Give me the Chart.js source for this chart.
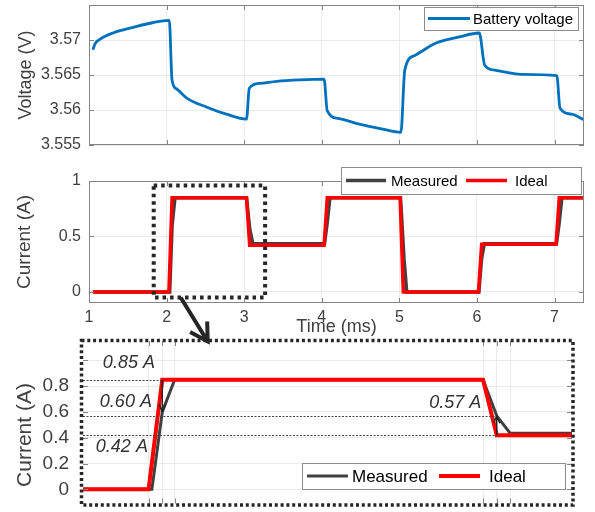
<!DOCTYPE html>
<html>
<head>
<meta charset="utf-8">
<script src="https://cdn.jsdelivr.net/npm/chart.js@4.4.1/dist/chart.umd.min.js"></script>
<style>
  html, body { margin: 0; padding: 0; background: #fff; }
  #wrap { position: relative; width: 595px; height: 512px; }
  #wrap canvas { position: absolute; left: 0; top: 0; }
</style>
</head>
<body>
<div id="wrap">
  <canvas id="cv" width="595" height="512"></canvas>
  <canvas id="ci" width="595" height="512"></canvas>
  <canvas id="cz" width="595" height="512"></canvas>
</div>
<script>
'use strict';

/* ---------- data ---------- */
const voltTime  = [1.05, 1.08, 1.14, 1.31, 1.57, 1.83, 2.035, 2.07, 2.13, 2.26, 2.52, 2.77, 3.03,
                   3.066, 3.20, 3.42, 3.72, 4.03, 4.07, 4.21, 4.51, 4.77, 5.02, 5.07, 5.20, 5.46,
                   5.76, 6.03, 6.10, 6.23, 6.57, 7.03, 7.07, 7.22, 7.38];
const voltValue = [3.5686, 3.5695, 3.5701, 3.5710, 3.5718, 3.5725, 3.5728, 3.5643, 3.5630, 3.5617,
                   3.5604, 3.5594, 3.5587, 3.5631, 3.5638, 3.5641, 3.5643, 3.5644, 3.5599, 3.5588,
                   3.5579, 3.5573, 3.5568, 3.5657, 3.5678, 3.5695, 3.5704, 3.5710, 3.5664, 3.5657,
                   3.5651, 3.5649, 3.5603, 3.5594, 3.5586];

const idealTime    = [1.05, 2.03, 2.071, 3.03, 3.071, 4.03, 4.071, 5.01, 5.051, 6.02, 6.061, 7.02, 7.061, 7.38];
const idealCurrent = [0, 0, 0.85, 0.85, 0.42, 0.42, 0.85, 0.85, 0, 0, 0.43, 0.43, 0.85, 0.85];

const measTime    = [1.05, 2.04, 2.071, 2.108, 3.03, 3.071, 3.111, 4.035, 4.07, 4.105, 5.015, 5.06,
                     5.095, 6.025, 6.06, 6.095, 7.025, 7.06, 7.095, 7.38];
const measCurrent = [0, 0, 0.60, 0.85, 0.85, 0.57, 0.435, 0.435, 0.62, 0.85, 0.85, 0.30,
                     0, 0, 0.30, 0.435, 0.435, 0.62, 0.85, 0.85];

const timeTicks        = [1, 2, 3, 4, 5, 6, 7];
const voltTicks        = [3.555, 3.56, 3.565, 3.57];
const currentTicks     = [0, 0.5, 1];
const zoomTimeTicks    = [2.03, 2.071, 2.108, 3.03, 3.071, 3.111];
const zoomCurrentTicks = [0, 0.2, 0.4, 0.6, 0.8, 1];

const levelValue = [0.85, 0.57, 0.42];
const levelEnd   = [2.071, 3.071, 3.071];
const noteText   = ['0.85 A', '0.60 A', '0.42 A', '0.57 A'];

/* ---------- shared look ---------- */
const FONT = '"Liberation Sans", Arial, Helvetica, sans-serif';
const GRID = '#ebebeb';
const AXIS = '#858585';
const TXT  = '#404040';
const INK  = '#262626';

function xy(xs, ys) { return xs.map((x, i) => ({ x: x, y: ys[i] })); }

function axis(o) {
  return {
    type: 'linear',
    min: o.min, max: o.max,
    afterBuildTicks: s => { s.ticks = o.ticks.map(v => ({ value: v })); },
    afterFit: s => {
      if (s.isHorizontal()) s.height = o.size; else s.width = o.size;
      s.paddingTop = 0; s.paddingBottom = 0; s.paddingLeft = 0; s.paddingRight = 0;
    },
    grid: { color: GRID, lineWidth: 1, drawTicks: false },
    border: { display: false },
    ticks: {
      display: o.labels !== false,
      autoSkip: false,
      maxRotation: 0,
      padding: o.pad || 0,
      color: TXT,
      font: { family: FONT, size: o.fontSize || 16 },
      callback: o.fmt || (v => String(v))
    },
    title: o.title
      ? { display: true, text: o.title, color: TXT, font: { family: FONT, size: o.titleSize }, padding: o.titlePad }
      : { display: false }
  };
}

/* inward tick marks + axes box */
const framePlugin = {
  id: 'frame',
  afterDatasetsDraw(chart, args, o) {
    const { ctx, chartArea: a, scales: { x, y } } = chart;
    ctx.save();
    ctx.strokeStyle = AXIS;
    ctx.lineWidth = 1;
    ctx.beginPath();
    x.ticks.forEach(t => {
      const p = Math.round(x.getPixelForValue(t.value)) + 0.5;
      ctx.moveTo(p, a.bottom); ctx.lineTo(p, a.bottom - 5);
      ctx.moveTo(p, a.top);    ctx.lineTo(p, a.top + 5);
    });
    y.ticks.forEach(t => {
      const p = Math.round(y.getPixelForValue(t.value)) + 0.5;
      ctx.moveTo(a.left, p);  ctx.lineTo(a.left + 5, p);
      ctx.moveTo(a.right, p); ctx.lineTo(a.right - 5, p);
    });
    ctx.stroke();
    if (o.box) ctx.strokeRect(Math.round(a.left) + 0.5, Math.round(a.top) + 0.5,
                              Math.round(a.width) - 1, Math.round(a.height) - 1);
    ctx.restore();
  }
};

/* boxed legend drawn from the datasets */
const keyPlugin = {
  id: 'key',
  afterDraw(chart, args, o) {
    const ctx = chart.ctx;
    const [bx, by, bw, bh] = o.rect;
    const cy = by + bh / 2;
    ctx.save();
    ctx.fillStyle = '#fff';
    ctx.fillRect(bx, by, bw, bh);
    ctx.strokeStyle = '#8c8c8c';
    ctx.lineWidth = 1;
    ctx.strokeRect(bx + 0.5, by + 0.5, bw, bh);
    ctx.font = o.size + 'px ' + FONT;
    ctx.textBaseline = 'middle';
    ctx.textAlign = 'left';
    chart.data.datasets.forEach((ds, i) => {
      const it = o.items[i];
      ctx.strokeStyle = ds.borderColor;
      ctx.lineWidth = ds.borderWidth;
      ctx.beginPath(); ctx.moveTo(it[0], cy); ctx.lineTo(it[1], cy); ctx.stroke();
      ctx.fillStyle = '#000';
      ctx.fillText(ds.label, it[2], cy + 1);
    });
    ctx.restore();
  }
};

function arrowHead(ctx, x0, y0, x1, y1, len, half) {
  const ang = Math.atan2(y1 - y0, x1 - x0) + Math.PI;
  ctx.moveTo(x1 + len * Math.cos(ang - half), y1 + len * Math.sin(ang - half));
  ctx.lineTo(x1, y1);
  ctx.lineTo(x1 + len * Math.cos(ang + half), y1 + len * Math.sin(ang + half));
}

/* dotted zoom window + arrow on the current panel */
const zoomBoxPlugin = {
  id: 'zoomBox',
  afterDraw(chart, args, o) {
    const { ctx, scales: { x, y } } = chart;
    const l = x.getPixelForValue(o.t[0]), r = x.getPixelForValue(o.t[1]);
    const t = y.getPixelForValue(o.i[1]), b = y.getPixelForValue(o.i[0]);
    ctx.save();
    ctx.strokeStyle = INK;
    ctx.lineWidth = 4;
    ctx.setLineDash([3.5, 4]);
    ctx.strokeRect(l, t, r - l, b - t);
    ctx.setLineDash([]);
    const sx = l + 27, sy = b, ex = sx + 27, ey = sy + 44;
    ctx.beginPath();
    ctx.moveTo(sx, sy); ctx.lineTo(ex, ey);
    arrowHead(ctx, sx, sy, ex, ey, 20, Math.PI / 6);
    ctx.stroke();
    ctx.restore();
  }
};

/* level lines, notes, dotted frame on the zoomed panel */
const levelPlugin = {
  id: 'levels',
  afterDraw(chart, args, o) {
    const { ctx, chartArea: a, scales: { x, y } } = chart;
    ctx.save();
    ctx.strokeStyle = '#444';
    ctx.lineWidth = 1;
    ctx.setLineDash([2, 1.5]);
    ctx.beginPath();
    levelValue.forEach((v, i) => {
      const py = Math.round(y.getPixelForValue(v)) + 0.5;
      ctx.moveTo(a.left, py); ctx.lineTo(x.getPixelForValue(levelEnd[i]), py);
    });
    ctx.stroke();
    ctx.setLineDash([]);

    ctx.strokeStyle = INK;
    ctx.lineWidth = 1.5;
    ctx.beginPath();
    o.arrows.forEach(ar => {
      const px = x.getPixelForValue(ar[0]);
      const y0 = y.getPixelForValue(ar[1]), y1 = y.getPixelForValue(ar[2]);
      ctx.moveTo(px, y0); ctx.lineTo(px, y1);
      arrowHead(ctx, px, y0, px, y1, 8, 0.4);
    });
    ctx.stroke();

    ctx.fillStyle = '#333';
    ctx.font = 'italic 18px ' + FONT;
    ctx.textAlign = 'right';
    ctx.textBaseline = 'middle';
    noteText.forEach((s, i) => {
      ctx.fillText(s, x.getPixelForValue(o.notes[i][0]), y.getPixelForValue(o.notes[i][1]));
    });

    ctx.save();
    ctx.translate(o.title[0], o.title[1]);
    ctx.rotate(-Math.PI / 2);
    ctx.textAlign = 'center';
    ctx.fillStyle = TXT;
    ctx.font = '21px ' + FONT;
    ctx.fillText('Current (A)', 0, 0);
    ctx.restore();

    ctx.strokeStyle = INK;
    ctx.lineWidth = 3.5;
    ctx.setLineDash([3, 2.8]);
    ctx.strokeRect(a.left - 1.5, a.top - 0.5, a.width + 2.5, a.height + 2);
    ctx.restore();
  }
};

const base = {
  responsive: false,
  animation: false,
  devicePixelRatio: 1,
  events: []
};

/* ---------- voltage ---------- */
new Chart(document.getElementById('cv'), {
  type: 'line',
  data: {
    datasets: [{
      label: 'Battery voltage',
      data: xy(voltTime, voltValue),
      borderColor: '#0072BD',
      borderWidth: 2.8,
      pointRadius: 0,
      cubicInterpolationMode: 'monotone'
    }]
  },
  options: Object.assign({}, base, {
    layout: { padding: { left: 0, top: 5, right: 11, bottom: 367 } },
    plugins: {
      legend: { display: false },
      tooltip: { enabled: false },
      frame: { box: true },
      key: { rect: [424, 7, 154, 23], size: 15, items: [[428, 470, 473]] }
    },
    scales: {
      x: axis({ min: 1, max: 7.38, ticks: timeTicks, size: 0, labels: false }),
      y: axis({ min: 3.555, max: 3.575, ticks: voltTicks, size: 89, pad: 8, fontSize: 16,
                title: 'Voltage (V)', titleSize: 18, titlePad: { top: 15, bottom: 0 } })
    }
  }),
  plugins: [framePlugin, keyPlugin]
});

/* ---------- current ---------- */
new Chart(document.getElementById('ci'), {
  type: 'line',
  data: {
    datasets: [
      { label: 'Measured', data: xy(measTime, measCurrent), borderColor: '#404040',
        borderWidth: 3.5, pointRadius: 0, order: 1 },
      { label: 'Ideal', data: xy(idealTime, idealCurrent), borderColor: '#ff0000',
        borderWidth: 3.5, pointRadius: 0, order: 0 }
    ]
  },
  options: Object.assign({}, base, {
    layout: { padding: { left: 0, top: 181, right: 11, bottom: 173 } },
    plugins: {
      legend: { display: false },
      tooltip: { enabled: false },
      frame: { box: true },
      key: { rect: [341, 167, 240, 27], size: 15, items: [[346, 386, 391], [466, 507, 515]] },
      zoomBox: { t: [1.834, 3.27], i: [-0.05, 0.96] }
    },
    scales: {
      x: axis({ min: 1, max: 7.38, ticks: timeTicks, size: 36, pad: 5, fontSize: 16,
                title: 'Time (ms)', titleSize: 18, titlePad: { top: 0, bottom: 1 } }),
      y: axis({ min: -0.1, max: 1, ticks: currentTicks, size: 89, pad: 8, fontSize: 16,
                title: 'Current (A)', titleSize: 19, titlePad: { top: 13.5, bottom: 0 } })
    }
  }),
  plugins: [framePlugin, keyPlugin, zoomBoxPlugin]
});

/* ---------- zoomed current ---------- */
new Chart(document.getElementById('cz'), {
  type: 'line',
  data: {
    datasets: [
      { label: 'Measured', data: xy(measTime, measCurrent), borderColor: '#404040',
        borderWidth: 3, pointRadius: 0, order: 1 },
      { label: 'Ideal', data: xy(idealTime, idealCurrent), borderColor: '#ff0000',
        borderWidth: 4, pointRadius: 0, order: 0 }
    ]
  },
  options: Object.assign({}, base, {
    layout: { padding: { left: 0, top: 341, right: 23, bottom: 8.5 } },
    plugins: {
      legend: { display: false },
      tooltip: { enabled: false },
      frame: { box: false },
      key: { rect: [302, 463, 263, 26], size: 17, items: [[307, 348, 352], [439, 480, 489]] },
      levels: {
        arrows: [[2.071, 0.85, 0.60], [3.071, 0.42, 0.57]],
        notes: [[2.049, 0.98], [2.04, 0.68], [2.028, 0.33], [3.025, 0.67]],
        title: [25, 435]
      }
    },
    scales: {
      x: axis({ min: 1.834, max: 3.296, ticks: zoomTimeTicks, size: 0, labels: false }),
      y: axis({ min: -0.11, max: 1.15, ticks: zoomCurrentTicks, size: 83, pad: 14, fontSize: 19,
                fmt: v => (v === 1 ? '' : String(v)) })
    }
  }),
  plugins: [framePlugin, levelPlugin, keyPlugin]
});
</script>
</body>
</html>
